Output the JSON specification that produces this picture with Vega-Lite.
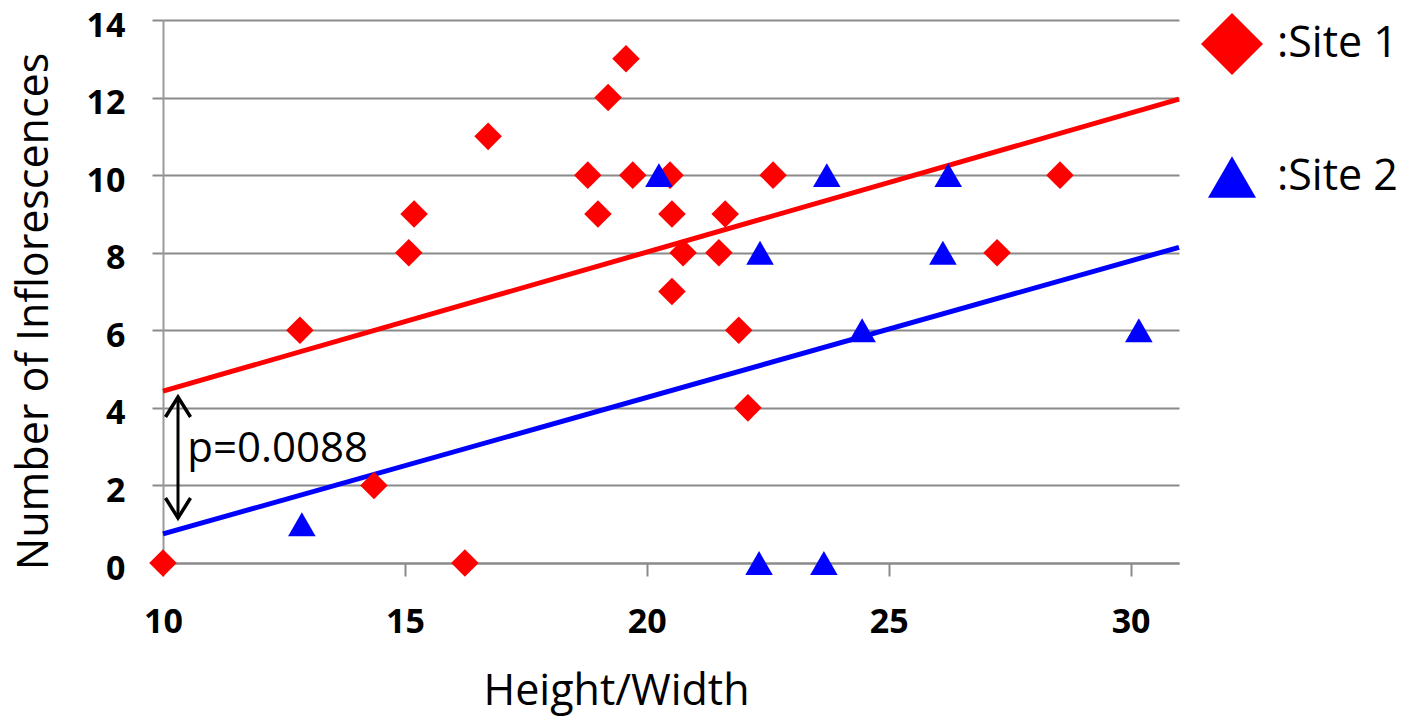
{
  "$schema": "https://vega.github.io/schema/vega-lite/v6.json",
  "width": 1016,
  "height": 543,
  "autosize": {"type": "none"},
  "padding": {"left": 163, "top": 20, "right": 231, "bottom": 154},
  "background": "white",
  "config": {"view": {"stroke": null}, "font": "Open Sans"},
  "datasets": {
    "points": [
      {"site": "Site 1", "x": 10.0, "y": 0},
      {"site": "Site 1", "x": 12.83, "y": 6},
      {"site": "Site 1", "x": 14.36, "y": 2},
      {"site": "Site 1", "x": 16.24, "y": 0},
      {"site": "Site 1", "x": 15.08, "y": 8},
      {"site": "Site 1", "x": 15.19, "y": 9},
      {"site": "Site 1", "x": 16.72, "y": 11},
      {"site": "Site 1", "x": 19.57, "y": 13},
      {"site": "Site 1", "x": 19.2, "y": 12},
      {"site": "Site 1", "x": 18.78, "y": 10},
      {"site": "Site 1", "x": 19.71, "y": 10},
      {"site": "Site 1", "x": 20.48, "y": 10},
      {"site": "Site 1", "x": 22.61, "y": 10},
      {"site": "Site 1", "x": 18.99, "y": 9},
      {"site": "Site 1", "x": 20.52, "y": 9},
      {"site": "Site 1", "x": 21.62, "y": 9},
      {"site": "Site 1", "x": 20.75, "y": 8},
      {"site": "Site 1", "x": 21.49, "y": 8},
      {"site": "Site 1", "x": 20.52, "y": 7},
      {"site": "Site 1", "x": 21.9, "y": 6},
      {"site": "Site 1", "x": 22.09, "y": 4},
      {"site": "Site 1", "x": 28.54, "y": 10},
      {"site": "Site 1", "x": 27.24, "y": 8},
      {"site": "Site 2", "x": 20.25, "y": 10},
      {"site": "Site 2", "x": 23.72, "y": 10},
      {"site": "Site 2", "x": 26.23, "y": 10},
      {"site": "Site 2", "x": 22.34, "y": 8},
      {"site": "Site 2", "x": 26.12, "y": 8},
      {"site": "Site 2", "x": 24.45, "y": 6},
      {"site": "Site 2", "x": 30.17, "y": 6},
      {"site": "Site 2", "x": 12.87, "y": 1},
      {"site": "Site 2", "x": 22.32, "y": 0},
      {"site": "Site 2", "x": 23.66, "y": 0}
    ],
    "trend": [
      {"site": "Site 1", "x": 10, "y": 4.43},
      {"site": "Site 1", "x": 31, "y": 11.96},
      {"site": "Site 2", "x": 10, "y": 0.75},
      {"site": "Site 2", "x": 31, "y": 8.14}
    ],
    "arrow": [{"x": 10.31, "y": 4.28, "y2": 1.16}],
    "note": [{"x": 10.5, "y": 2.6, "text": "p=0.0088"}]
  },
  "layer": [
    {
      "data": {"name": "trend"},
      "transform": [{"filter": "datum.site === 'Site 1'"}],
      "mark": {"type": "line", "strokeWidth": 5, "clip": false, "color": "#ff0000"},
      "encoding": {
        "x": {
          "field": "x", "type": "quantitative",
          "scale": {"domain": [10, 31], "nice": false, "zero": false},
          "axis": {
            "title": "Height/Width",
            "values": [10, 15, 20, 25, 30],
            "grid": false,
            "domain": true, "domainColor": "#8a8a8a", "domainWidth": 2,
            "ticks": true, "tickSize": 13, "tickColor": "#8a8a8a", "tickWidth": 2,
            "labelPadding": 29, "labelFont": "Open Sans", "labelFontSize": 34, "labelFontWeight": "bold", "labelColor": "black",
            "labelFlush": false, "labelOverlap": false,
            "titleFont": "Open Sans", "titleFontSize": 43, "titleFontWeight": "normal", "titleColor": "black",
            "titleX": 453, "titleY": 141, "titleBaseline": "alphabetic", "titleAlign": "center"
          }
        },
        "y": {
          "field": "y", "type": "quantitative",
          "scale": {"domain": [0, 14], "nice": false},
          "axis": {
            "title": "Number of Inflorescences",
            "values": [0, 2, 4, 6, 8, 10, 12, 14],
            "grid": true, "gridColor": "#8a8a8a", "gridWidth": 2,
            "domain": true, "domainColor": "#9a9a9a", "domainWidth": 2,
            "ticks": true, "tickSize": 11, "tickColor": "#8a8a8a", "tickWidth": 2,
            "labelPadding": 27, "labelOffset": 6, "labelFont": "Open Sans", "labelFontSize": 34, "labelFontWeight": "bold", "labelColor": "black",
            "labelFlush": false, "labelOverlap": false,
            "titleFont": "Open Sans", "titleFontSize": 43, "titleFontWeight": "normal", "titleColor": "black",
            "titleX": -116, "titleY": 291, "titleBaseline": "alphabetic", "titleAlign": "center", "titleAngle": 270
          }
        }
      }
    },
    {
      "data": {"name": "trend"},
      "transform": [{"filter": "datum.site === 'Site 2'"}],
      "mark": {"type": "line", "strokeWidth": 5, "clip": false, "color": "#0000ff"},
      "encoding": {
        "x": {"field": "x", "type": "quantitative", "title": "Height/Width"},
        "y": {"field": "y", "type": "quantitative", "title": "Number of Inflorescences"}
      }
    },
    {
      "data": {"name": "arrow"},
      "mark": {"type": "rule", "strokeWidth": 3, "color": "black"},
      "encoding": {
        "x": {"field": "x", "type": "quantitative", "title": "Height/Width"},
        "y": {"field": "y", "type": "quantitative", "title": "Number of Inflorescences"},
        "y2": {"field": "y2"}
      }
    },
    {
      "data": {"name": "arrow"},
      "mark": {"type": "point", "shape": "M-1,1.6L0,0L1,1.6", "filled": false, "stroke": "black", "strokeWidth": 3.5, "size": 625, "opacity": 1},
      "encoding": {
        "x": {"field": "x", "type": "quantitative", "title": "Height/Width"},
        "y": {"field": "y", "type": "quantitative", "title": "Number of Inflorescences"}
      }
    },
    {
      "data": {"name": "arrow"},
      "mark": {"type": "point", "shape": "M-1,-1.6L0,0L1,-1.6", "filled": false, "stroke": "black", "strokeWidth": 3.5, "size": 625, "opacity": 1},
      "encoding": {
        "x": {"field": "x", "type": "quantitative", "title": "Height/Width"},
        "y": {"field": "y2", "type": "quantitative", "title": "Number of Inflorescences"}
      }
    },
    {
      "data": {"name": "note"},
      "mark": {"type": "text", "font": "Open Sans", "fontSize": 42, "align": "left", "baseline": "alphabetic", "color": "black"},
      "encoding": {
        "x": {"field": "x", "type": "quantitative", "title": "Height/Width"},
        "y": {"field": "y", "type": "quantitative", "title": "Number of Inflorescences"},
        "text": {"field": "text"}
      }
    },
    {
      "data": {"name": "points"},
      "mark": {"type": "point", "filled": true, "size": 760, "opacity": 1, "strokeWidth": 0, "clip": false},
      "encoding": {
        "x": {"field": "x", "type": "quantitative", "title": "Height/Width"},
        "y": {"field": "y", "type": "quantitative", "title": "Number of Inflorescences"},
        "color": {
          "field": "site", "type": "nominal",
          "scale": {"domain": ["Site 1", "Site 2"], "range": ["#ff0000", "#0000ff"]},
          "legend": {
            "title": null, "orient": "none", "legendX": 1045, "legendY": 0,
            "labelExpr": "':' + datum.label",
            "labelFont": "Open Sans", "labelFontSize": 43, "labelColor": "black",
            "symbolSize": 3844, "labelOffset": 21, "rowPadding": 78, "padding": 0,
            "symbolStrokeWidth": 0, "symbolOpacity": 1,
            "encode": {"symbols": {"update": {"size": {"signal": "datum.value === 'Site 1' ? 3844 : 2304"}}}}
          }
        },
        "shape": {
          "field": "site", "type": "nominal",
          "scale": {"domain": ["Site 1", "Site 2"], "range": ["diamond", "triangle-up"]},
          "legend": {
            "title": null, "orient": "none", "legendX": 1045, "legendY": 0,
            "labelExpr": "':' + datum.label",
            "labelFont": "Open Sans", "labelFontSize": 43, "labelColor": "black",
            "symbolSize": 3844, "labelOffset": 21, "rowPadding": 78, "padding": 0,
            "symbolStrokeWidth": 0, "symbolOpacity": 1,
            "encode": {"symbols": {"update": {"size": {"signal": "datum.value === 'Site 1' ? 3844 : 2304"}}}}
          }
        }
      }
    }
  ]
}
